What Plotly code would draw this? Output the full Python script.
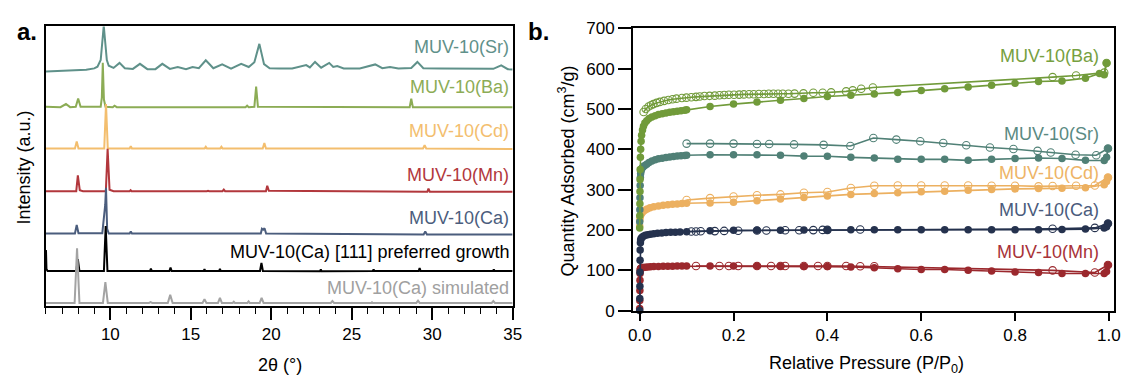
import plotly.graph_objects as go

W, H = 1131, 383
FONT = "Liberation Sans, Arial, sans-serif"

# ---------------- Panel a: PXRD patterns (2theta in deg, intensity a.u. above own baseline)
sr_tt = [6.0, 7.5, 8.5, 9.0, 9.2, 9.4, 9.5, 9.59, 9.68, 9.78, 9.9, 10.2, 10.57, 10.9, 11.4, 11.84, 12.3, 12.8,
         13.23, 13.7, 14.19, 14.7, 15.11, 15.5, 15.93, 16.4, 16.95, 17.5, 18.13, 18.6, 18.95, 19.26, 19.55,
         19.9, 20.5, 21.3, 22.17, 22.4, 22.72, 23.1, 23.6, 23.85, 24.1, 24.5, 25.5, 26.46, 26.9, 27.38, 27.9,
         28.7, 29.08, 29.45, 30.5, 32.0, 33.8, 34.29, 34.7, 35.0]
sr_int = [-1, -0.3, 0.7, 2.2, 4, 11, 30, 47, 30, 11, 5, 2.7, 8, 2.4, 1.7, 7, 1.4, 1.4,
          7, 1.7, 3.7, 1.4, 3.7, 2.4, 10.7, 2.4, 6.4, 2, 7, 3.7, 8.7, 28, 6.7,
          2.4, 2, 2, 5.7, 3.2, 9, 3, 8, 3.7, 4.7, 2.2, 2.2, 6.4, 2.4, 3.7, 2,
          2.7, 9, 2.4, 2, 1.7, 1.7, 5.4, 1.4, 1]

ba_tt = [6.0, 6.9, 7.24, 7.5, 7.85, 8.0, 8.15, 9.4, 9.47, 9.53, 9.6, 9.7, 10.15, 10.26, 10.4,
         18.4, 18.5, 18.6, 18.95, 19.06, 19.17, 28.6, 28.7, 28.8, 35.0]
ba_int = [0.5, 0, 3.3, 0, 0.5, 9, 0.5, 0.5, 10, 46.6, 8, 0.5, 0, 1.6, 0,
          0, 1.6, 0, 0.5, 21.6, 0.5, 0, 9, 0, 0]

cd_tt = [6.0, 7.8, 7.91, 8.02, 9.62, 9.73, 9.84, 11.2, 11.27, 11.34, 15.86, 15.93, 16.0,
         16.83, 16.9, 16.97, 19.47, 19.57, 19.67, 29.43, 29.53, 29.63, 35.0]
cd_int = [0, 0, 7.4, 0, 0, 46.7, 0, 0, 2.4, 0, 0, 1.7, 0,
          0, 1.7, 0, 0, 5.7, 0, 0, 3.4, 0, -0.6]

mn_tt = [6.0, 7.88, 7.98, 8.1, 8.3, 9.72, 9.83, 9.95, 10.2, 11.2, 11.26, 11.32, 16.0, 16.07, 16.14,
         16.97, 17.05, 17.13, 19.67, 19.75, 19.85, 29.7, 29.77, 29.85, 35.0]
mn_int = [0, 0, 16.7, 1, 0, 0, 44.7, 1.5, 0, 0, 1, 0, 0, 0.5, 0,
          0, 1.7, 0, 0, 5.7, 0.5, -0.5, 2.7, -0.5, -0.7]

ca_tt = [6.0, 7.8, 7.91, 8.02, 9.5, 9.62, 9.68, 9.73, 9.8, 9.9, 11.2, 11.27, 11.34,
         19.35, 19.42, 19.5, 19.58, 19.68, 29.47, 29.57, 29.67, 35.0]
ca_int = [0, 0, 8.9, 0.3, 0.3, 16, 30, 48, 5, 0, 0, 2.2, 0,
          0, 5, 4, 5.5, 0, -1, 2.2, -1, -1]

pref_tt = [6.0, 6.03, 6.1, 7.88, 7.98, 8.08, 9.6, 9.71, 9.82, 12.46, 12.52, 12.58, 13.67, 13.74, 13.81,
           15.8, 15.85, 15.9, 16.76, 16.81, 16.86, 19.3, 19.39, 19.48, 23.03, 23.08, 23.13,
           26.31, 26.36, 26.41, 29.16, 29.22, 29.28, 33.78, 33.83, 33.88, 35.0]
pref_int = [22, 2, 0, 0, 12.4, 0, 0, 47.4, 0, 0, 2.4, 0, 0, 3.7, 0,
            0, 2, 0, 0, 2.4, 0, 0, 8.4, 0, -0.3, 1.7, -0.3,
            0, 1.7, 0, 0, 3, 0, 0, 1.7, 0, 0]

sim_tt = [6.0, 7.78, 7.93, 8.08, 9.54, 9.69, 9.84, 12.4, 12.5, 12.6, 13.57, 13.72, 13.87,
          15.73, 15.85, 15.97, 16.69, 16.81, 16.93, 17.6, 17.67, 17.74, 18.52, 18.59, 18.66,
          19.28, 19.4, 19.52, 23.7, 23.8, 23.9, 26.2, 26.26, 26.32, 29.02, 29.12, 29.22,
          33.7, 33.8, 33.9, 35.0]
sim_int = [0, 0, 57.6, 0, 0, 22, 0, 0, 0.8, 0, 0, 8.6, 0,
           0, 4, 0, 0, 5.3, 0, 0, 1.3, 0, 0, 1.6, 0,
           0, 5.3, 0, 0, 2, 0, 0, 0.8, 0, 0, 2.3, 0,
           0, 2, 0, 0]

xrd_names = ["MUV-10(Sr)", "MUV-10(Ba)", "MUV-10(Cd)", "MUV-10(Mn)", "MUV-10(Ca)",
             "MUV-10(Ca) [111] preferred growth", "MUV-10(Ca) simulated"]

# ---------------- Panel b: N2 isotherms (P/P0, cm3/g)
ba_ads_p = [0.0, 0.0002, 0.0004, 0.0006, 0.0008, 0.001, 0.0015, 0.002, 0.003, 0.004, 0.006, 0.008, 0.011,
            0.015, 0.02, 0.026, 0.033, 0.04, 0.048, 0.056, 0.064, 0.072, 0.08, 0.088, 0.096, 0.1, 0.15, 0.2,
            0.25, 0.3, 0.35, 0.4, 0.45, 0.5, 0.55, 0.6, 0.65, 0.7, 0.75, 0.8, 0.85, 0.9, 0.95, 0.98, 0.99, 0.995]
ba_ads_q = [205, 235, 265, 295, 325, 350, 380, 400, 420, 435, 448, 457, 465,
            471, 476, 480, 483, 486, 488, 490, 492, 493, 494, 495.5, 497, 498, 506, 512,
            517.5, 521.5, 526, 531, 534, 537, 541, 545.5, 550, 554.5, 559, 563.5, 568, 569.5, 576, 588, 585, 614]
ba_des_p = [0.995, 0.99, 0.93, 0.88, 0.497, 0.472, 0.454, 0.44, 0.408, 0.39, 0.37, 0.349, 0.33, 0.317,
            0.305, 0.295, 0.285, 0.275, 0.265, 0.254, 0.243, 0.233, 0.222, 0.212, 0.201, 0.19, 0.18, 0.17,
            0.16, 0.149, 0.138, 0.128, 0.12, 0.11, 0.0996, 0.09, 0.0785, 0.07, 0.061, 0.052, 0.043, 0.036,
            0.029, 0.024, 0.019, 0.013, 0.0084]
ba_des_q = [614, 590, 583, 579, 553, 550, 546, 543.5, 541, 540, 540, 538.5, 538, 537.5,
            537.5, 537.5, 537.5, 537.5, 537, 537, 536.5, 536.5, 536, 535.5, 535, 535, 534.5, 534,
            533, 532.5, 532, 531, 530, 529, 528, 527, 525.5, 524, 522, 520, 517.5, 515,
            512, 509, 506, 500, 492.5]

sr_ads_p = [0.0, 0.0003, 0.0006, 0.001, 0.0015, 0.002, 0.003, 0.004, 0.006, 0.008, 0.011, 0.015, 0.02,
            0.026, 0.033, 0.04, 0.048, 0.056, 0.064, 0.072, 0.08, 0.088, 0.096, 0.1, 0.15, 0.2, 0.25, 0.3,
            0.35, 0.4, 0.45, 0.5, 0.55, 0.6, 0.65, 0.7, 0.75, 0.8, 0.85, 0.9, 0.95, 0.99, 0.995, 0.998]
sr_ads_q = [220, 250, 280, 310, 330, 340, 347, 351, 355, 357, 360, 363, 367,
            371, 374, 376.5, 378, 379.5, 381, 382, 383, 384, 384.5, 385, 386.5, 386.5, 386.5, 385,
            383, 382.5, 380, 378.5, 375.5, 375, 375, 372.5, 375, 377, 378.5, 377, 372.5, 372, 380, 402]
sr_des_p = [0.998, 0.973, 0.929, 0.876, 0.848, 0.7965, 0.7465, 0.696, 0.647, 0.598, 0.547, 0.498,
            0.449, 0.392, 0.329, 0.276, 0.25, 0.2, 0.15, 0.1]
sr_des_q = [402, 385, 386.5, 392, 396, 400.5, 404.5, 410, 415.5, 420, 424, 428,
            408, 411, 412, 413, 413, 414, 414, 414]

cd_ads_p = [0.0, 0.0005, 0.001, 0.002, 0.004, 0.007, 0.011, 0.016, 0.022, 0.03, 0.04, 0.05, 0.06, 0.07,
            0.08, 0.09, 0.1, 0.15, 0.2, 0.25, 0.3, 0.35, 0.4, 0.45, 0.5, 0.55, 0.6, 0.65, 0.7, 0.75, 0.8,
            0.85, 0.9, 0.95, 0.99, 0.995, 0.998]
cd_ads_q = [210, 225, 232, 237, 241, 245, 249, 252, 255, 257.5, 259.5, 261, 262.5, 263.5,
            264.5, 265.5, 266, 267, 268.7, 272.5, 276.5, 280.5, 284, 288, 290, 292, 294.5, 296, 298.4, 300, 301.7,
            302.5, 303.5, 304.5, 312, 320, 330]
cd_des_p = [0.998, 0.97, 0.93, 0.88, 0.85, 0.8, 0.75, 0.7, 0.65, 0.6, 0.55, 0.5, 0.45, 0.4, 0.35, 0.3,
            0.25, 0.2, 0.15, 0.1]
cd_des_q = [330, 310, 309.5, 309, 308, 309.5, 309.5, 310, 310, 310, 310, 309.5, 304, 294, 292, 288,
            285.9, 282.8, 278.8, 274]

ca_ads_p = [0.0, 0.0002, 0.0004, 0.0006, 0.0008, 0.001, 0.0015, 0.002, 0.003, 0.005, 0.008, 0.012, 0.017,
            0.023, 0.03, 0.038, 0.047, 0.056, 0.066, 0.076, 0.086, 0.1, 0.15, 0.2, 0.25, 0.3, 0.35, 0.4,
            0.45, 0.5, 0.55, 0.6, 0.65, 0.7, 0.75, 0.8, 0.85, 0.9, 0.95, 0.99, 0.995, 0.998]
ca_ads_q = [0, 30, 60, 95, 125, 150, 168, 175, 179, 182, 184.5, 186.5, 188,
            189.5, 190.5, 191.5, 192.5, 193.5, 194, 194.5, 195, 195.5, 198, 199, 199, 199, 200, 200,
            200.3, 200.3, 200.3, 200.3, 200.3, 200.3, 200.3, 200.3, 200.5, 201, 202, 205, 208, 216]
ca_des_p = [0.998, 0.97, 0.88, 0.47, 0.4, 0.39, 0.37, 0.34, 0.31, 0.27, 0.25, 0.21, 0.18, 0.16, 0.13,
            0.12, 0.11]
ca_des_q = [216, 205, 203, 201, 200, 200, 199.5, 199, 199, 198.5, 198.5, 198, 197.5, 197, 196.5,
            196, 196]

mn_ads_p = [0.0, 0.0002, 0.0004, 0.0006, 0.0008, 0.001, 0.0015, 0.002, 0.003, 0.005, 0.008, 0.012, 0.017,
            0.023, 0.03, 0.04, 0.05, 0.06, 0.07, 0.08, 0.09, 0.1, 0.15, 0.2, 0.25, 0.3, 0.35, 0.4, 0.45,
            0.5, 0.55, 0.6, 0.65, 0.7, 0.75, 0.8, 0.85, 0.9, 0.95, 0.99, 0.995, 0.998]
mn_ads_q = [5, 25, 50, 75, 92, 100, 103, 104.5, 105.5, 106.5, 107, 107.5, 108,
            108.5, 109, 109.5, 110, 110, 110, 110.5, 110.5, 110.5, 110.5, 110.5, 110.5, 110, 109.5, 109, 108,
            106, 103.7, 102, 101.7, 99.7, 98, 95.7, 94.3, 92, 92, 92, 97, 113]
mn_des_p = [0.998, 0.97, 0.88, 0.5, 0.47, 0.44, 0.4, 0.38, 0.35, 0.31, 0.3, 0.28, 0.25, 0.21, 0.19,
            0.17, 0.12]
mn_des_q = [113, 94.3, 99.7, 110, 110, 110.5, 110.5, 110.5, 110.5, 110.5, 110.5, 110.5, 110.5, 110.5,
            110.5, 110.5, 110.5]

# ---------------- styling
xrd = [
    (sr_tt, sr_int, 248.0, "#5f918a"),
    (ba_tt, ba_int, 209.4, "#8cac55"),
    (cd_tt, cd_int, 166.0, "#f3be6e"),
    (mn_tt, mn_int, 121.0, "#b2373c"),
    (ca_tt, ca_int, 76.5, "#4b5d7d"),
    (pref_tt, pref_int, 37.0, "#000000"),
    (sim_tt, sim_int, 3.4, "#a3a3a3"),
]
xrd_label_y = [40, 81.7, 128, 175, 220, 256, 293.3]

iso = [  # drawing order
    ("MUV-10(Mn)", mn_ads_p, mn_ads_q, mn_des_p, mn_des_q, "#9b282d"),
    ("MUV-10(Cd)", cd_ads_p, cd_ads_q, cd_des_p, cd_des_q, "#ecb060"),
    ("MUV-10(Sr)", sr_ads_p, sr_ads_q, sr_des_p, sr_des_q, "#508076"),
    ("MUV-10(Ba)", ba_ads_p, ba_ads_q, ba_des_p, ba_des_q, "#719b3a"),
    ("MUV-10(Ca)", ca_ads_p, ca_ads_q, ca_des_p, ca_des_q, "#25324e"),
]
iso_labels = [("MUV-10(Ba)", 49.5, "#76a040"), ("MUV-10(Sr)", 131, "#5a8a82"),
              ("MUV-10(Cd)", 173, "#eeb466"), ("MUV-10(Ca)", 211.5, "#4a5b7c"),
              ("MUV-10(Mn)", 256, "#a83238")]

fig = go.Figure()

for tt, it, off, col in xrd:
    fig.add_trace(go.Scatter(x=tt, y=[v + off for v in it], mode="lines",
                             line=dict(color=col, width=2), xaxis="x", yaxis="y",
                             showlegend=False, hoverinfo="skip"))

for name, ap, aq, dp, dq, col in iso:
    fig.add_trace(go.Scatter(x=dp, y=dq, mode="lines+markers", xaxis="x2", yaxis="y2",
                             line=dict(color=col, width=1.6),
                             marker=dict(symbol="circle-open", size=7.5, color=col, line=dict(width=1.1)),
                             cliponaxis=False, showlegend=False, hoverinfo="skip"))
    fig.add_trace(go.Scatter(x=ap, y=aq, mode="lines+markers", xaxis="x2", yaxis="y2",
                             line=dict(color=col, width=1.6),
                             marker=dict(symbol="circle", size=7.5, color=col),
                             cliponaxis=False, showlegend=False, hoverinfo="skip"))

ann = []
def px(x):
    return x / W
def py(y):
    return 1 - y / H

for (tt, it, off, col), name, ly in zip(xrd, xrd_names, xrd_label_y):
    ann.append(dict(text=name, x=px(512), y=py(ly), xref="paper", yref="paper",
                    xanchor="right", yanchor="middle", showarrow=False,
                    font=dict(size=18, color=col if col != "#a3a3a3" else "#a0a0a0", family=FONT)))
for name, ly, col in iso_labels:
    ann.append(dict(text=name, x=px(1110), y=py(ly), xref="paper", yref="paper",
                    xanchor="right", yanchor="middle", showarrow=False,
                    font=dict(size=18, color=col, family=FONT)))

ann += [
    dict(text="<b>a.</b>", x=px(10), y=py(24), xref="paper", yref="paper", xanchor="left",
         yanchor="middle", showarrow=False, font=dict(size=24, color="black", family=FONT)),
    dict(text="<b>b.</b>", x=px(528), y=py(24), xref="paper", yref="paper", xanchor="left",
         yanchor="middle", showarrow=False, font=dict(size=24, color="black", family=FONT)),
    dict(text="2θ (°)", x=px(278), y=py(375), xref="paper", yref="paper", xanchor="center",
         yanchor="middle", showarrow=False, font=dict(size=18, color="black", family=FONT)),
    dict(text="Relative Pressure (P/P<sub>0</sub>)", x=px(872), y=py(374), xref="paper", yref="paper",
         xanchor="center", yanchor="middle", showarrow=False, font=dict(size=18, color="black", family=FONT)),
    dict(text="Intensity (a.u.)", x=px(19), y=py(167), xref="paper", yref="paper", xanchor="center",
         yanchor="middle", textangle=-90, showarrow=False, font=dict(size=18, color="black", family=FONT)),
    dict(text="Quantity Adsorbed (cm<sup>3</sup>/g)", x=px(569), y=py(170), xref="paper", yref="paper",
         xanchor="center", yanchor="middle", textangle=-90, showarrow=False,
         font=dict(size=18, color="black", family=FONT)),
]

fig.update_layout(
    width=W, height=H, margin=dict(l=0, r=0, t=0, b=0),
    paper_bgcolor="white", plot_bgcolor="white",
    font=dict(family=FONT, size=17, color="black"),
    showlegend=False,
    annotations=ann,
    xaxis=dict(domain=[41.5 / W, 514 / W], range=[6, 35], anchor="y",
               showline=True, linecolor="black", linewidth=1.6, mirror=True,
               ticks="outside", ticklen=12, tickwidth=1.6, tickcolor="black",
               tick0=0, dtick=5, showgrid=False, zeroline=False,
               minor=dict(ticks="outside", ticklen=6, tickwidth=1.4, tickcolor="black", dtick=1, showgrid=False),
               tickfont=dict(size=17)),
    yaxis=dict(domain=[1 - 312.7 / H, 1 - 18.3 / H], range=[0, 294.4], anchor="x",
               showline=True, linecolor="black", linewidth=1.6, mirror=True,
               showticklabels=False, ticks="", showgrid=False, zeroline=False),
    xaxis2=dict(domain=[636 / W, 1122.5 / W], range=[-0.014, 1.010], anchor="y2",
                showline=True, linecolor="black", linewidth=2, mirror=True,
                ticks="outside", ticklen=8, tickwidth=2, tickcolor="black",
                tickvals=[0, 0.2, 0.4, 0.6, 0.8, 1.0], ticktext=["0.0", "0.2", "0.4", "0.6", "0.8", "1.0"],
                showgrid=False, zeroline=False, tickfont=dict(size=17)),
    yaxis2=dict(domain=[1 - 317.3 / H, 1 - 20.3 / H], range=[0, 700], anchor="x2",
                showline=True, linecolor="black", linewidth=2, mirror=True,
                ticks="outside", ticklen=13, tickwidth=2, tickcolor="black",
                tick0=0, dtick=100, showgrid=False, zeroline=False, tickfont=dict(size=17)),
)

fig.write_html("out.html")
